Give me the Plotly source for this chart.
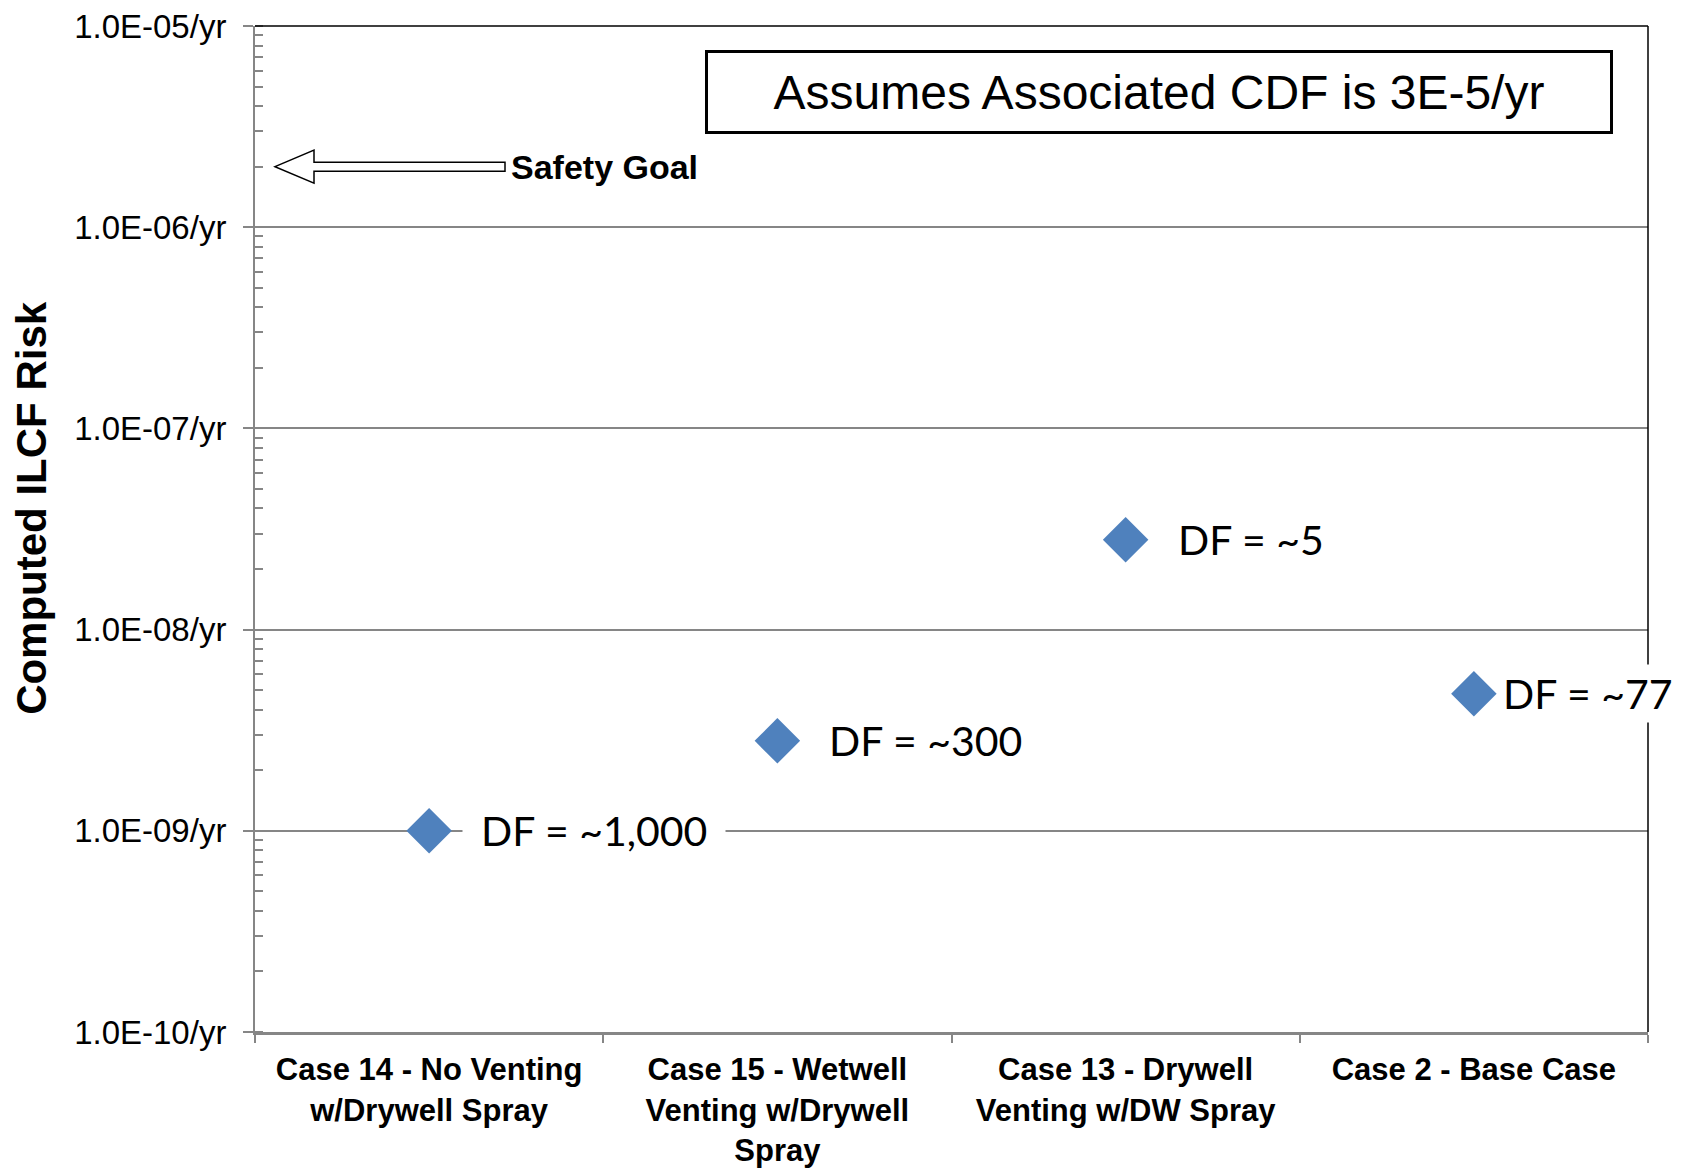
import numpy as np
import plotly.graph_objects as go

# ---------------- data ----------------
categories = [
    "Case 14 - No Venting<br>w/Drywell Spray",
    "Case 15 - Wetwell<br>Venting w/Drywell<br>Spray",
    "Case 13 - Drywell<br>Venting w/DW Spray",
    "Case 2 - Base Case",
]
ilcf_risk = [1.0e-9, 2.8e-9, 2.8e-8, 4.8e-9]
df_labels = ["DF = ~1,000", "DF = ~300", "DF = ~5", "DF = ~77"]
y_tick_values = [1e-10, 1e-9, 1e-8, 1e-7, 1e-6, 1e-5]
y_tick_labels = ["1.0E-10/yr", "1.0E-09/yr", "1.0E-08/yr",
                 "1.0E-07/yr", "1.0E-06/yr", "1.0E-05/yr"]
safety_goal = 2.0e-6
safety_goal_text = "Safety Goal"
note_text = "Assumes Associated CDF is 3E-5/yr"
y_title = "Computed ILCF Risk"

# ---------------- styles ----------------
GRAY = "#868686"
BLUE = "#4F81BD"
ARIAL = "Liberation Sans, Arial, sans-serif"
CALIBRI = "Lato, Carlito, Calibri, sans-serif"
label_style = [  # (xshift, borderpad) per label
    (33, 18), (33, 18), (33, 18), (24, 4)
]

fig = go.Figure()
fig.add_trace(go.Scatter(
    x=categories, y=ilcf_risk, mode="markers",
    marker=dict(symbol="diamond", size=35, color=BLUE, line=dict(width=0)),
    hoverinfo="x+y",
))

fig.update_layout(
    width=1681, height=1168,
    margin=dict(l=255, r=33, t=26, b=136),
    plot_bgcolor="white", paper_bgcolor="white",
    showlegend=False,
    xaxis=dict(
        type="category", range=[-0.5, 3.5], automargin=False,
        tickson="boundaries", ticks="outside", ticklen=8,
        tickcolor=GRAY, tickwidth=1.5,
        showline=True, linecolor=GRAY, linewidth=3,
        showgrid=False, zeroline=False,
        tickfont=dict(family=ARIAL, size=31, color="black", weight="bold"),
        ticklabelstandoff=8,
    ),
    yaxis=dict(
        type="log", range=[-10, -5], automargin=False,
        tickmode="array", tickvals=y_tick_values, ticktext=y_tick_labels,
        ticks="outside", ticklen=10, tickcolor=GRAY, tickwidth=1.5,
        showline=True, linecolor=GRAY, linewidth=2,
        showgrid=True, gridcolor=GRAY, gridwidth=1.5,
        zeroline=False,
        minor=dict(dtick="D1", ticks="inside", ticklen=8,
                   tickcolor=GRAY, tickwidth=1.5, showgrid=False),
        tickfont=dict(family=ARIAL, size=33, color="black"),
        ticklabelstandoff=10,
    ),
)

# y-axis title (placed as rotated text to match the original's offset)
fig.add_annotation(
    x=0, xref="paper", xanchor="center", xshift=-223,
    y=0.521, yref="paper", yanchor="middle",
    text=y_title, textangle=-90, showarrow=False,
    font=dict(family=ARIAL, size=42, color="black", weight="bold"),
)

# top and right border of the plot area
fig.add_shape(type="line", xref="paper", yref="paper", x0=0, x1=1, y0=1, y1=1,
              line=dict(color="black", width=1.5))
fig.add_shape(type="line", xref="paper", yref="paper", x0=1, x1=1, y0=0, y1=1,
              line=dict(color="black", width=1.5))

# Safety goal block arrow (pixel-sized path anchored at the goal value)
fig.add_shape(
    type="path", xref="paper", xsizemode="pixel", xanchor=0,
    yref="y", ysizemode="pixel", yanchor=safety_goal,
    path="M 20,0 L 59,16.5 L 59,4.5 L 250,4.5 L 250,-4.5 L 59,-4.5 L 59,-16.5 Z",
    fillcolor="white", line=dict(color="black", width=1.5), layer="above",
)
fig.add_annotation(
    x=0, xref="paper", xanchor="left", xshift=254,
    y=np.log10(safety_goal), yref="y", yanchor="middle",
    text=safety_goal_text, showarrow=False,
    font=dict(family=ARIAL, size=34, color="black", weight="bold"),
)

# note box
fig.add_annotation(
    x=0.6492, y=0.9342, xref="paper", yref="paper",
    xanchor="center", yanchor="middle",
    width=902, height=78, borderpad=0,
    text=note_text, showarrow=False,
    bordercolor="black", borderwidth=3, bgcolor="white",
    font=dict(family=ARIAL, size=48, color="black"),
)

# DF labels
for cat, val, lab, (xs, bp) in zip(categories, ilcf_risk, df_labels, label_style):
    fig.add_annotation(
        x=cat, y=np.log10(val), xref="x", yref="y",
        xanchor="left", yanchor="middle", xshift=xs,
        text=lab, showarrow=False, bgcolor="white", borderpad=bp,
        font=dict(family=CALIBRI, size=41, color="black"),
    )

fig.write_html("out.html", config={"displayModeBar": False},
               post_script="document.body.style.margin='0';")
